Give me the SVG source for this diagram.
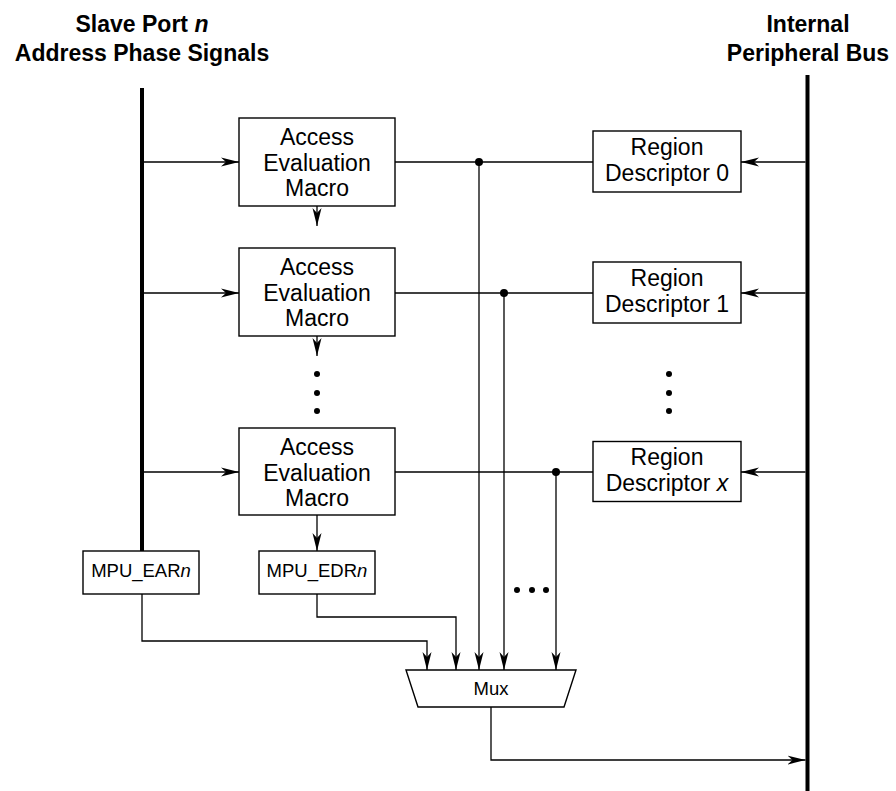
<svg xmlns="http://www.w3.org/2000/svg" width="896" height="791" viewBox="0 0 896 791">
<style>
.t{font-family:"Liberation Sans",Arial,Helvetica,sans-serif;fill:#000}
.h{font-size:23px;font-weight:bold}
.b{font-size:23px}
.s{font-size:18.5px}
.box{fill:#fff;stroke:#000;stroke-width:1.4}
.ln{fill:none;stroke:#000;stroke-width:1.3}
.bus{fill:none;stroke:#000;stroke-width:4}
</style>
<defs>
<marker id="ah" markerWidth="20" markerHeight="10" refX="18" refY="5" orient="auto" markerUnits="userSpaceOnUse">
<path d="M0,0.5 L18,5 L0,9.5 L5,5 Z" fill="#000"/>
</marker>
</defs>
<g id="title-left">
<text class="t h" x="142" y="32" text-anchor="middle">Slave Port <tspan font-style="italic">n</tspan></text>
<text class="t h" x="142" y="61" text-anchor="middle">Address Phase Signals</text>
</g>
<g id="title-right">
<text class="t h" x="808" y="32" text-anchor="middle">Internal</text>
<text class="t h" x="808" y="61" text-anchor="middle">Peripheral Bus</text>
</g>
<g id="connectors">
<line class="bus" x1="142" y1="88" x2="142" y2="551"/>
<line class="bus" x1="807.5" y1="75" x2="807.5" y2="791"/>
<line class="ln" x1="142" y1="162" x2="239" y2="162" marker-end="url(#ah)"/>
<line class="ln" x1="142" y1="293" x2="239" y2="293" marker-end="url(#ah)"/>
<line class="ln" x1="142" y1="472" x2="239" y2="472" marker-end="url(#ah)"/>
<line class="ln" x1="805.5" y1="162" x2="741" y2="162" marker-end="url(#ah)"/>
<line class="ln" x1="805.5" y1="293" x2="741" y2="293" marker-end="url(#ah)"/>
<line class="ln" x1="805.5" y1="472" x2="741" y2="472" marker-end="url(#ah)"/>
<line class="ln" x1="395" y1="162" x2="593" y2="162"/>
<line class="ln" x1="395" y1="293" x2="593" y2="293"/>
<line class="ln" x1="395" y1="472" x2="593" y2="472"/>
<line class="ln" x1="317" y1="206" x2="317" y2="226" marker-end="url(#ah)"/>
<line class="ln" x1="317" y1="336" x2="317" y2="356" marker-end="url(#ah)"/>
<line class="ln" x1="317" y1="515" x2="317" y2="551" marker-end="url(#ah)"/>
<line class="ln" x1="479" y1="162" x2="479" y2="670" marker-end="url(#ah)"/>
<line class="ln" x1="504" y1="293" x2="504" y2="670" marker-end="url(#ah)"/>
<line class="ln" x1="556" y1="472" x2="556" y2="670" marker-end="url(#ah)"/>
<polyline class="ln" points="142,594 142,641 427,641 427,670" marker-end="url(#ah)"/>
<polyline class="ln" points="317,594 317,617 456,617 456,670" marker-end="url(#ah)"/>
<polyline class="ln" points="491,707 491,760 805.5,760" marker-end="url(#ah)"/>
<circle cx="479" cy="162" r="4"/>
<circle cx="504" cy="293" r="4"/>
<circle cx="556" cy="472" r="4"/>
<circle cx="317" cy="374" r="3"/>
<circle cx="317" cy="393" r="3"/>
<circle cx="317" cy="411" r="3"/>
<circle cx="669" cy="374" r="3"/>
<circle cx="669" cy="393" r="3"/>
<circle cx="669" cy="411" r="3"/>
<circle cx="517" cy="590" r="3"/>
<circle cx="532" cy="590" r="3"/>
<circle cx="546" cy="590" r="3"/>
</g>
<g id="aem0">
<rect class="box" x="239" y="118" width="156" height="88"/>
<text class="t b" x="317" y="145" text-anchor="middle">Access</text>
<text class="t b" x="317" y="170.5" text-anchor="middle">Evaluation</text>
<text class="t b" x="317" y="196" text-anchor="middle">Macro</text>
</g>
<g id="aem1">
<rect class="box" x="239" y="248" width="156" height="88"/>
<text class="t b" x="317" y="275" text-anchor="middle">Access</text>
<text class="t b" x="317" y="300.5" text-anchor="middle">Evaluation</text>
<text class="t b" x="317" y="326" text-anchor="middle">Macro</text>
</g>
<g id="aemx">
<rect class="box" x="239" y="428" width="156" height="87"/>
<text class="t b" x="317" y="455" text-anchor="middle">Access</text>
<text class="t b" x="317" y="480.5" text-anchor="middle">Evaluation</text>
<text class="t b" x="317" y="506" text-anchor="middle">Macro</text>
</g>
<g id="rd0">
<rect class="box" x="593" y="131" width="148" height="61"/>
<text class="t b" x="667" y="155" text-anchor="middle">Region</text>
<text class="t b" x="667" y="181" text-anchor="middle">Descriptor 0</text>
</g>
<g id="rd1">
<rect class="box" x="593" y="262" width="148" height="61"/>
<text class="t b" x="667" y="286" text-anchor="middle">Region</text>
<text class="t b" x="667" y="312" text-anchor="middle">Descriptor 1</text>
</g>
<g id="rdx">
<rect class="box" x="593" y="441.5" width="148" height="60"/>
<text class="t b" x="667" y="465" text-anchor="middle">Region</text>
<text class="t b" x="667" y="491" text-anchor="middle">Descriptor <tspan font-style="italic">x</tspan></text>
</g>
<g id="mpu-ear">
<rect class="box" x="83" y="551" width="116" height="43"/>
<text class="t s" x="141" y="577" text-anchor="middle">MPU_EAR<tspan font-style="italic">n</tspan></text>
</g>
<g id="mpu-edr">
<rect class="box" x="259" y="551" width="116" height="43"/>
<text class="t s" x="317" y="577" text-anchor="middle">MPU_EDR<tspan font-style="italic">n</tspan></text>
</g>
<g id="mux">
<polygon class="box" points="406,670 576,670 564,707 418,707"/>
<text class="t s" x="491" y="695" text-anchor="middle">Mux</text>
</g>
</svg>
